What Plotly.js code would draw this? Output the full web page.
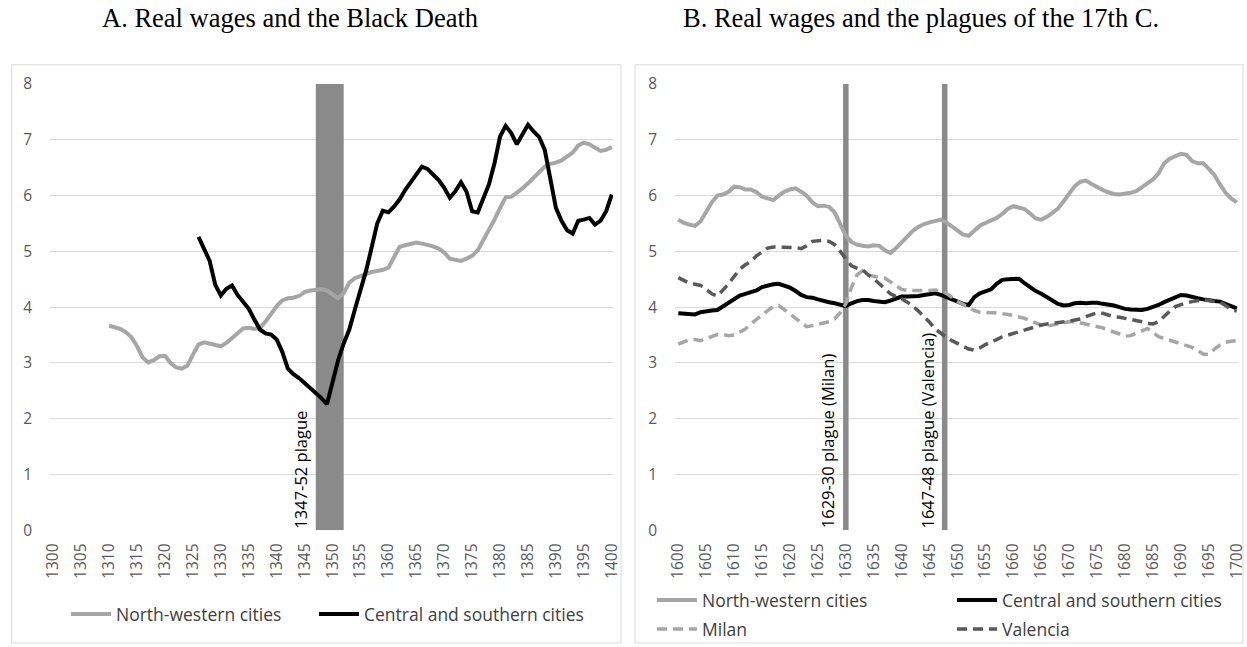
<!DOCTYPE html>
<html>
<head>
<meta charset="utf-8">
<script src="https://cdn.plot.ly/plotly-3.0.1.min.js"></script>
<style>html,body{margin:0;padding:0;background:#fff}#chart{width:1247px;height:647px}</style>
</head>
<body>
<div id="chart"></div>
<script>
// ---- Panel A data (1300-1400) ----
var tickYearsA = [1300,1305,1310,1315,1320,1325,1330,1335,1340,1345,1350,1355,1360,1365,1370,1375,1380,1385,1390,1395,1400];
var nwA_years = [1310,1311,1312,1313,1314,1315,1316,1317,1318,1319,1320,1321,1322,1323,1324,1325,1326,1327,1328,1329,1330,1331,1332,1333,1334,1335,1336,1337,1338,1339,1340,1341,1342,1343,1344,1345,1346,1347,1348,1349,1350,1351,1352,1353,1354,1355,1356,1357,1358,1359,1360,1361,1362,1363,1364,1365,1366,1367,1368,1369,1370,1371,1372,1373,1374,1375,1376,1377,1378,1379,1380,1381,1382,1383,1384,1385,1386,1387,1388,1389,1390,1391,1392,1393,1394,1395,1396,1397,1398,1399,1400];
var nwA = [3.67,3.64,3.61,3.55,3.46,3.30,3.10,3.01,3.05,3.12,3.13,3.00,2.92,2.90,2.95,3.15,3.33,3.37,3.35,3.32,3.30,3.36,3.45,3.55,3.62,3.63,3.61,3.63,3.74,3.88,4.02,4.12,4.16,4.17,4.20,4.27,4.30,4.31,4.32,4.30,4.23,4.16,4.25,4.44,4.52,4.56,4.60,4.63,4.65,4.67,4.71,4.90,5.08,5.11,5.13,5.16,5.14,5.12,5.09,5.05,4.98,4.87,4.85,4.83,4.87,4.92,5.02,5.20,5.38,5.57,5.78,5.97,5.98,6.05,6.13,6.22,6.32,6.42,6.52,6.57,6.59,6.63,6.70,6.77,6.90,6.95,6.92,6.86,6.80,6.82,6.87];
var csA_years = [1326,1327,1328,1329,1330,1331,1332,1333,1334,1335,1336,1337,1338,1339,1340,1341,1342,1343,1344,1345,1346,1347,1348,1349,1350,1351,1352,1353,1354,1355,1356,1357,1358,1359,1360,1361,1362,1363,1364,1365,1366,1367,1368,1369,1370,1371,1372,1373,1374,1375,1376,1377,1378,1379,1380,1381,1382,1383,1384,1385,1386,1387,1388,1389,1390,1391,1392,1393,1394,1395,1396,1397,1398,1399,1400];
var csA = [5.26,5.05,4.83,4.40,4.21,4.33,4.39,4.22,4.10,3.97,3.78,3.60,3.53,3.51,3.42,3.20,2.90,2.80,2.73,2.64,2.56,2.48,2.37,2.26,2.65,3.05,3.35,3.60,3.96,4.31,4.65,5.07,5.50,5.73,5.70,5.80,5.93,6.10,6.25,6.39,6.52,6.48,6.38,6.28,6.14,5.96,6.08,6.24,6.07,5.72,5.70,5.95,6.20,6.58,7.06,7.25,7.12,6.92,7.08,7.27,7.15,7.05,6.82,6.30,5.78,5.55,5.38,5.32,5.55,5.57,5.60,5.48,5.55,5.72,6.02];
var plagueA = [1347, 1352];

// ---- Panel B data (1600-1700) ----
var yearsB = [];
for (var yb = 1600; yb <= 1700; yb++) yearsB.push(yb);
var tickYearsB = [1600,1605,1610,1615,1620,1625,1630,1635,1640,1645,1650,1655,1660,1665,1670,1675,1680,1685,1690,1695,1700];
var nwB = [5.57,5.51,5.48,5.46,5.54,5.70,5.88,6.00,6.02,6.07,6.16,6.15,6.11,6.11,6.06,5.98,5.95,5.92,6.00,6.07,6.11,6.13,6.07,6.00,5.88,5.81,5.82,5.80,5.70,5.50,5.28,5.17,5.12,5.10,5.09,5.11,5.10,5.02,4.97,5.06,5.17,5.28,5.37,5.44,5.49,5.52,5.55,5.57,5.52,5.44,5.36,5.30,5.28,5.37,5.46,5.51,5.55,5.60,5.67,5.76,5.81,5.79,5.76,5.68,5.59,5.57,5.62,5.69,5.77,5.90,6.05,6.17,6.25,6.27,6.21,6.15,6.10,6.06,6.03,6.02,6.03,6.05,6.08,6.15,6.21,6.29,6.40,6.58,6.66,6.71,6.75,6.73,6.62,6.58,6.58,6.48,6.37,6.20,6.05,5.95,5.88];
var csB = [3.89,3.88,3.88,3.87,3.91,3.93,3.94,3.95,4.01,4.08,4.15,4.21,4.24,4.27,4.30,4.36,4.39,4.41,4.42,4.39,4.35,4.29,4.22,4.18,4.17,4.14,4.11,4.09,4.07,4.04,4.02,4.07,4.11,4.13,4.13,4.11,4.10,4.09,4.12,4.16,4.19,4.19,4.19,4.20,4.22,4.24,4.25,4.22,4.18,4.13,4.09,4.06,4.04,4.18,4.25,4.28,4.32,4.42,4.49,4.50,4.50,4.51,4.43,4.35,4.29,4.24,4.19,4.12,4.06,4.03,4.04,4.07,4.08,4.07,4.08,4.08,4.06,4.05,4.03,4.00,3.97,3.96,3.95,3.95,3.97,4.00,4.04,4.09,4.14,4.19,4.22,4.21,4.18,4.16,4.14,4.12,4.11,4.10,4.06,4.02,3.98];
var milan = [3.34,3.38,3.42,3.42,3.40,3.44,3.48,3.51,3.51,3.49,3.50,3.55,3.61,3.70,3.79,3.86,3.94,4.01,4.03,3.96,3.88,3.80,3.72,3.65,3.67,3.69,3.71,3.74,3.79,3.90,4.06,4.35,4.58,4.65,4.58,4.55,4.53,4.52,4.45,4.38,4.32,4.30,4.30,4.29,4.29,4.30,4.31,4.29,4.25,4.18,4.10,4.05,3.99,3.94,3.91,3.90,3.90,3.90,3.89,3.87,3.85,3.83,3.80,3.76,3.72,3.68,3.66,3.68,3.70,3.72,3.74,3.74,3.72,3.70,3.68,3.66,3.63,3.59,3.56,3.52,3.48,3.49,3.53,3.58,3.62,3.55,3.47,3.44,3.41,3.38,3.35,3.32,3.28,3.22,3.16,3.15,3.25,3.32,3.37,3.39,3.40];
var valencia = [4.53,4.48,4.43,4.41,4.39,4.32,4.24,4.20,4.30,4.42,4.55,4.68,4.76,4.82,4.92,5.00,5.06,5.08,5.08,5.08,5.08,5.07,5.05,5.10,5.18,5.19,5.20,5.18,5.12,5.00,4.86,4.74,4.70,4.67,4.58,4.51,4.42,4.32,4.24,4.19,4.15,4.09,4.02,3.93,3.84,3.73,3.61,3.53,3.46,3.40,3.35,3.30,3.25,3.23,3.27,3.33,3.37,3.42,3.47,3.50,3.54,3.57,3.60,3.63,3.66,3.68,3.70,3.71,3.72,3.73,3.75,3.77,3.79,3.83,3.87,3.90,3.89,3.86,3.83,3.82,3.80,3.79,3.77,3.74,3.71,3.70,3.74,3.84,3.93,4.01,4.05,4.08,4.10,4.12,4.13,4.12,4.11,4.09,4.03,3.96,3.93];
var plagueMilan = 1630;
var plagueValencia = 1647.7;

var seriesNames = ["North-western cities", "Central and southern cities", "Milan", "Valencia"];
var titleA = "A. Real wages and the Black Death";
var titleB = "B. Real wages and the plagues of the 17th C.";
var labelA = "1347-52 plague";
var labelMilan = "1629-30 plague (Milan)";
var labelValencia = "1647-48 plague (Valencia)";

var W = 1247, H = 647;
function px(x) { return x / W; }
function py(y) { return 1 - y / H; }

var tickFont = {family: "Open Sans, sans-serif", size: 15.5, color: "#595959"};
var legFont = {family: "Open Sans, sans-serif", size: 17.5, color: "#404040"};
var GRAY = "#a6a6a6", DARK = "#595959", BAND = "#8a8a8a";

var traces = [
  {x: nwA_years, y: nwA, type: "scatter", mode: "lines", name: seriesNames[0], line: {color: GRAY, width: 4}, xaxis: "x", yaxis: "y", legend: "legend"},
  {x: csA_years, y: csA, type: "scatter", mode: "lines", name: seriesNames[1], line: {color: "#000000", width: 4}, xaxis: "x", yaxis: "y", legend: "legend2"},
  {x: yearsB, y: nwB, type: "scatter", mode: "lines", name: seriesNames[0], line: {color: GRAY, width: 4}, xaxis: "x2", yaxis: "y2", legend: "legend3"},
  {x: yearsB, y: csB, type: "scatter", mode: "lines", name: seriesNames[1], line: {color: "#000000", width: 4}, xaxis: "x2", yaxis: "y2", legend: "legend4"},
  {x: yearsB, y: milan, type: "scatter", mode: "lines", name: seriesNames[2], line: {color: GRAY, width: 3.5, dash: "10px,6px"}, xaxis: "x2", yaxis: "y2", legend: "legend5"},
  {x: yearsB, y: valencia, type: "scatter", mode: "lines", name: seriesNames[3], line: {color: DARK, width: 3.5, dash: "10px,6px"}, xaxis: "x2", yaxis: "y2", legend: "legend6"}
];

function xAxis(dom, range, ticks) {
  return {domain: dom, range: range, tickvals: ticks, ticktext: ticks.map(String), tickangle: -90,
    tickfont: tickFont, showgrid: false, zeroline: false, showline: false, ticks: "", ticklabelstandoff: 9, fixedrange: true};
}
function yAxis(anchor) {
  return {domain: [py(532), py(84.3)], range: [0, 8], tickvals: [0,1,2,3,4,5,6,7,8], anchor: anchor,
    tickfont: tickFont, showgrid: true, gridcolor: "#d9d9d9", gridwidth: 1, zeroline: false, showline: false, ticks: "", ticklabelstandoff: 17, fixedrange: true};
}
function leg(xp, yp) {
  return {orientation: "h", x: px(xp), y: py(yp), xanchor: "left", yanchor: "middle", font: legFont, itemwidth: 40, bgcolor: "rgba(0,0,0,0)", borderwidth: 0};
}

var layout = {
  width: W, height: H, margin: {l: 0, r: 0, t: 0, b: 0},
  paper_bgcolor: "#ffffff", plot_bgcolor: "rgba(0,0,0,0)",
  showlegend: true,
  xaxis: xAxis([px(50), px(613)], [1299.41, 1400.22], tickYearsA),
  yaxis: yAxis("x"),
  xaxis2: xAxis([px(675), px(1238)], [1599.41, 1700.22], tickYearsB),
  yaxis2: yAxis("x2"),
  legend: leg(66, 616),
  legend2: leg(314, 616),
  legend3: leg(652, 602),
  legend4: leg(952, 602),
  legend5: leg(652, 631),
  legend6: leg(952, 631),
  shapes: [
    {type: "rect", xref: "paper", yref: "paper", x0: px(11.7), x1: px(621), y0: py(645), y1: py(65), line: {color: "#d9d9d9", width: 1}, fillcolor: "rgba(0,0,0,0)", layer: "below"},
    {type: "rect", xref: "paper", yref: "paper", x0: px(635), x1: px(1243), y0: py(645), y1: py(65), line: {color: "#d9d9d9", width: 1}, fillcolor: "rgba(0,0,0,0)", layer: "below"},
    {type: "rect", xref: "x", yref: "y", x0: plagueA[0], x1: plagueA[1], y0: 0, y1: 8, fillcolor: BAND, line: {width: 0}, layer: "between"},
    {type: "line", xref: "x2", yref: "y2", x0: plagueMilan, x1: plagueMilan, y0: 0, y1: 8, line: {color: BAND, width: 5.5}, layer: "between"},
    {type: "line", xref: "x2", yref: "y2", x0: plagueValencia, x1: plagueValencia, y0: 0, y1: 8, line: {color: BAND, width: 5.5}, layer: "between"}
  ],
  annotations: [
    {text: titleA, xref: "paper", yref: "paper", x: px(290), y: py(18), xanchor: "center", yanchor: "middle", showarrow: false, font: {family: "Liberation Serif, Times New Roman, serif", size: 26.5, color: "#000"}},
    {text: titleB, xref: "paper", yref: "paper", x: px(921), y: py(18), xanchor: "center", yanchor: "middle", showarrow: false, font: {family: "Liberation Serif, Times New Roman, serif", size: 26.5, color: "#000"}},
    {text: labelA, xref: "x", yref: "y", x: plagueA[0], y: 0, xanchor: "right", yanchor: "bottom", textangle: -90, showarrow: false, xshift: -2, font: {family: "Open Sans, sans-serif", size: 16.5, color: "#000"}},
    {text: labelMilan, xref: "x2", yref: "y2", x: plagueMilan, y: 0, xanchor: "right", yanchor: "bottom", textangle: -90, showarrow: false, xshift: -4, font: {family: "Open Sans, sans-serif", size: 16.5, color: "#000"}},
    {text: labelValencia, xref: "x2", yref: "y2", x: plagueValencia, y: 0, xanchor: "right", yanchor: "bottom", textangle: -90, showarrow: false, xshift: -4, font: {family: "Open Sans, sans-serif", size: 16.5, color: "#000"}}
  ]
};

Plotly.newPlot("chart", traces, layout, {displayModeBar: false, staticPlot: true});
</script>
</body>
</html>
